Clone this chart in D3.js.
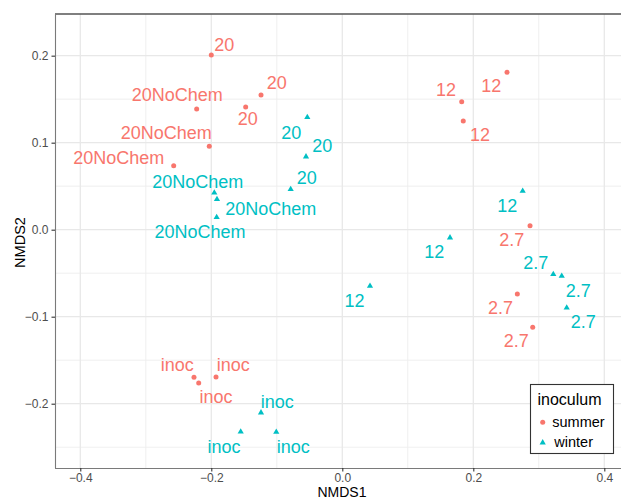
<!DOCTYPE html>
<html>
<head>
<meta charset="utf-8">
<script src="https://cdn.jsdelivr.net/npm/d3@7"></script>
<style>
  html, body { margin: 0; padding: 0; background: #fff; }
  svg { display: block; font-family: "Liberation Sans", Arial, Helvetica, sans-serif; }
</style>
</head>
<body>
<svg id="chart" width="621" height="500"></svg>
<script>
// ---- data ----
const nmds1 = [-0.2000, -0.1241, -0.1475, -0.2223, -0.2031, -0.2574,
               0.2515, 0.1823, 0.1847, 0.2866, 0.2672, 0.2907,
               -0.2264, -0.2192, -0.1928,
               -0.0534, -0.0554, -0.0788, -0.1954, -0.1913, -0.1918,
               0.2754, 0.1644, 0.0423, 0.3221, 0.3350, 0.3426,
               -0.1241, -0.1551, -0.1008];
const nmds2 = [0.2008, 0.1549, 0.1410, 0.1387, 0.0959, 0.0736,
               0.1809, 0.1471, 0.1249, 0.0046, -0.0739, -0.1122,
               -0.1697, -0.1762, -0.1693,
               0.1292, 0.0839, 0.0464, 0.0425, 0.0349, 0.0143,
               0.0445, -0.0092, -0.0647, -0.0513, -0.0532, -0.0897,
               -0.2103, -0.2322, -0.2326];
const inoculum = ["summer","summer","summer","summer","summer","summer",
                  "summer","summer","summer","summer","summer","summer",
                  "summer","summer","summer",
                  "winter","winter","winter","winter","winter","winter",
                  "winter","winter","winter","winter","winter","winter",
                  "winter","winter","winter"];
const sampleLabels = ["20","20","20","20NoChem","20NoChem","20NoChem",
                      "12","12","12","2.7","2.7","2.7",
                      "inoc","inoc","inoc",
                      "20","20","20","20NoChem","20NoChem","20NoChem",
                      "12","12","12","2.7","2.7","2.7",
                      "inoc","inoc","inoc"];
const groups = ["summer", "winter"];
const xTicks = [-0.4, -0.2, 0.0, 0.2, 0.4];
const yTicks = [-0.2, -0.1, 0.0, 0.1, 0.2];
const xMinor = [-0.3, -0.1, 0.1, 0.3];
const yMinor = [-0.25, -0.15, -0.05, 0.05, 0.15];

// ---- layout (repelled label offsets, px) ----
const labelDx = [13, 15.7, 2, -19.4, -43, -55,
                 -15.7, -15.7, 16.7, -18.3, -16.8, -16.4,
                 -16.7, 17.3, 17.3,
                 -16, 16.3, 16, -16.6, 53.7, -16.7,
                 -15.4, -15.8, -15.5, -17.5, 16.5, 16.5,
                 16.3, -16.7, 17];
const labelDy = [-10.5, -12.3, 12, -14.3, -13.3, -7.7,
                 13.7, -12.4, 13.3, 14, 14, 13,
                 -12.3, 14, -12.3,
                 15, -10.9, -11.3, -11.4, 9.7, 14.4,
                 14.7, 14.3, 14.3, -11.8, 14.3, 14.3,
                 -11.4, 15, 14.7];

(function () {
const rows = nmds1.map((d, i) => ({x: d, y: nmds2[i], g: inoculum[i], lab: sampleLabels[i], dx: labelDx[i], dy: labelDy[i]}));

const svg = d3.select("#chart");
const pL = 55, pR = 629, pT = 14, pB = 468;
const x = d3.scaleLinear().domain([-0.4386, 0.4377]).range([pL, pR]);
const y = d3.scaleLinear().domain([-0.2739, 0.2479]).range([pB, pT]);
const color = d3.scaleOrdinal().domain(groups).range(["#F8766D", "#00BFC4"]);

const triPath = (s) => {
  const h = s * Math.sqrt(3) / 2;
  return `M0,${-h*2/3}L${s/2},${h/3}L${-s/2},${h/3}Z`;
};

// grid
const grid = svg.append("g");
grid.selectAll(".xm").data(xMinor).enter().append("line")
  .attr("x1", d => x(d)).attr("x2", d => x(d)).attr("y1", pT).attr("y2", pB)
  .attr("stroke", "#EDEDED").attr("stroke-width", 0.9);
grid.selectAll(".ym").data(yMinor).enter().append("line")
  .attr("y1", d => y(d)).attr("y2", d => y(d)).attr("x1", pL).attr("x2", pR)
  .attr("stroke", "#EDEDED").attr("stroke-width", 0.9);
grid.selectAll(".xM").data(xTicks).enter().append("line")
  .attr("x1", d => x(d)).attr("x2", d => x(d)).attr("y1", pT).attr("y2", pB)
  .attr("stroke", "#E8E8E8").attr("stroke-width", 1.3);
grid.selectAll(".yM").data(yTicks).enter().append("line")
  .attr("y1", d => y(d)).attr("y2", d => y(d)).attr("x1", pL).attr("x2", pR)
  .attr("stroke", "#E8E8E8").attr("stroke-width", 1.3);

// panel border (top)
svg.append("line").attr("x1", pL).attr("x2", pR).attr("y1", pT).attr("y2", pT)
  .attr("stroke", "#555").attr("stroke-width", 1.4);

// axes
const fmt = d3.format(".1f");
const xAxis = svg.append("g").attr("transform", `translate(0,${pB})`)
  .call(d3.axisBottom(x).tickValues(xTicks).tickFormat(fmt).tickSize(3.5).tickPadding(2));
const yAxis = svg.append("g").attr("transform", `translate(${pL},0)`)
  .call(d3.axisLeft(y).tickValues(yTicks).tickFormat(fmt).tickSize(3.5).tickPadding(3));
[xAxis, yAxis].forEach(a => {
  a.select(".domain").attr("stroke", "#7a7a7a").attr("stroke-width", 1.1);
  a.selectAll(".tick line").attr("stroke", "#333").attr("stroke-width", 1.1);
  a.selectAll(".tick text").attr("fill", "#4D4D4D").attr("font-size", 12)
    .attr("font-family", "Liberation Sans, Arial, sans-serif");
});
xAxis.select(".domain").attr("d", `M${pL},0.5H${pR}`);
yAxis.select(".domain").attr("d", `M0.5,${pT}V${pB}`);

// axis titles
svg.append("text").attr("x", 342).attr("y", 497).attr("text-anchor", "middle")
  .attr("font-size", 14).attr("fill", "#000").text("NMDS1");
svg.append("text").attr("transform", `translate(25,242.5) rotate(-90)`).attr("text-anchor", "middle")
  .attr("font-size", 14.5).attr("fill", "#000").text("NMDS2");

// points
const pts = svg.append("g");
pts.selectAll("circle").data(rows.filter(d => d.g === "summer")).enter().append("circle")
  .attr("cx", d => x(d.x)).attr("cy", d => y(d.y)).attr("r", 2.5).attr("fill", color("summer"));
pts.selectAll("path").data(rows.filter(d => d.g === "winter")).enter().append("path")
  .attr("transform", d => `translate(${x(d.x)},${y(d.y)})`).attr("d", triPath(6.2))
  .attr("fill", color("winter"));

// labels
svg.append("g").selectAll("text").data(rows).enter().append("text")
  .attr("x", d => x(d.x) + d.dx).attr("y", d => y(d.y) + d.dy + 6.4)
  .attr("text-anchor", "middle").attr("font-size", 18)
  .attr("fill", d => color(d.g)).text(d => d.lab);

// legend
const lg = svg.append("g");
lg.append("rect").attr("x", 530.5).attr("y", 384.5).attr("width", 83).attr("height", 69)
  .attr("fill", "#fff").attr("stroke", "#333").attr("stroke-width", 1.1);
lg.append("text").attr("x", 537.5).attr("y", 405).attr("font-size", 16).attr("fill", "#000").text("inoculum");
lg.append("circle").attr("cx", 542.7).attr("cy", 422.3).attr("r", 2.5).attr("fill", color("summer"));
lg.append("text").attr("x", 552.3).attr("y", 427).attr("font-size", 14.5).attr("fill", "#000").text("summer");
lg.append("path").attr("transform", "translate(542.7,442.7)").attr("d", triPath(6.2)).attr("fill", color("winter"));
lg.append("text").attr("x", 554.3).attr("y", 446.8).attr("font-size", 14.5).attr("fill", "#000").text("winter");
})();
</script>
</body>
</html>
